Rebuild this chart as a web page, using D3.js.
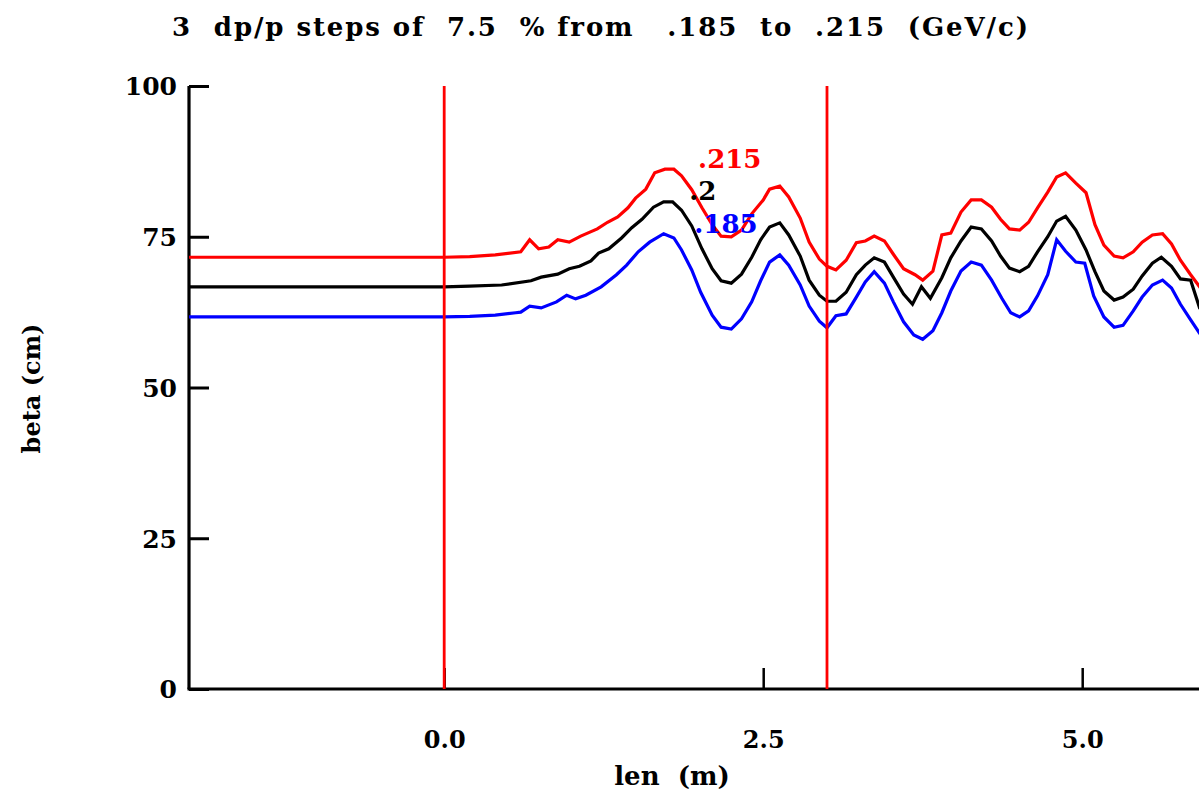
<!DOCTYPE html>
<html>
<head>
<meta charset="utf-8">
<script src="https://cdn.jsdelivr.net/npm/d3@7"></script>
<style>
  html, body { margin: 0; padding: 0; background: #fff; }
  svg { display: block; }
  text { font-family: "DejaVu Serif", "Liberation Serif", serif; font-weight: bold; fill: #000; }
</style>
</head>
<body>
<svg id="chart" width="1199" height="796"></svg>
<script>
// Beta function vs. path length for three momenta (GeV/c)
const redLen  = [-2, 0, 0.2, 0.4, 0.6, 0.67, 0.74, 0.82, 0.89, 0.98, 1.07, 1.2, 1.28, 1.36, 1.44, 1.5, 1.58, 1.65, 1.73, 1.8, 1.86, 1.94, 2.02, 2.1, 2.17, 2.25, 2.33, 2.41, 2.5, 2.55, 2.63, 2.7, 2.79, 2.86, 2.94, 3.0, 3.07, 3.15, 3.23, 3.3, 3.37, 3.45, 3.52, 3.6, 3.69, 3.75, 3.83, 3.9, 3.97, 4.05, 4.13, 4.21, 4.29, 4.36, 4.43, 4.51, 4.58, 4.65, 4.73, 4.8, 4.87, 4.95, 5.03, 5.1, 5.17, 5.25, 5.32, 5.4, 5.47, 5.55, 5.63, 5.7, 5.77, 5.85, 5.92, 6.0];
const redBeta = [71.6, 71.6, 71.7, 72.0, 72.5, 74.5, 73.0, 73.3, 74.5, 74.1, 75.1, 76.3, 77.4, 78.3, 79.8, 81.4, 82.9, 85.6, 86.2, 86.2, 85.1, 82.8, 79.8, 77.0, 75.1, 75.0, 76.1, 78.8, 81.1, 82.9, 83.4, 81.6, 78.1, 74.1, 71.3, 70.1, 69.5, 71.1, 74.0, 74.3, 75.1, 74.3, 72.1, 69.7, 68.7, 67.8, 69.3, 75.3, 75.6, 79.1, 81.1, 81.1, 79.9, 77.9, 76.3, 76.1, 77.4, 79.8, 82.4, 84.9, 85.6, 83.9, 82.3, 77.0, 73.6, 71.8, 71.5, 72.5, 74.1, 75.3, 75.5, 73.8, 71.1, 68.7, 66.7, 64.5];

const blackLen  = [-2, 0, 0.2, 0.45, 0.68, 0.76, 0.89, 0.98, 1.06, 1.15, 1.21, 1.29, 1.39, 1.47, 1.55, 1.64, 1.72, 1.79, 1.86, 1.94, 2.02, 2.1, 2.17, 2.25, 2.33, 2.41, 2.48, 2.55, 2.63, 2.7, 2.79, 2.86, 2.94, 3.0, 3.07, 3.15, 3.23, 3.3, 3.37, 3.45, 3.52, 3.6, 3.67, 3.74, 3.81, 3.9, 3.97, 4.05, 4.13, 4.21, 4.29, 4.36, 4.43, 4.51, 4.58, 4.65, 4.73, 4.8, 4.87, 4.95, 5.03, 5.1, 5.17, 5.25, 5.32, 5.4, 5.47, 5.55, 5.62, 5.7, 5.77, 5.85, 5.92, 6.0];
const blackBeta = [66.7, 66.7, 66.8, 67.0, 67.7, 68.3, 68.8, 69.7, 70.1, 71.0, 72.3, 73.0, 74.8, 76.5, 77.9, 79.9, 80.8, 80.8, 79.4, 76.8, 73.0, 69.7, 67.7, 67.3, 68.8, 71.6, 74.5, 76.6, 77.3, 75.3, 71.8, 67.8, 65.3, 64.3, 64.3, 65.8, 68.7, 70.3, 71.5, 70.8, 68.3, 65.5, 63.8, 66.7, 64.8, 68.2, 71.5, 74.3, 76.6, 76.3, 74.3, 71.8, 69.8, 69.2, 70.1, 72.5, 75.0, 77.6, 78.4, 76.1, 72.8, 69.2, 66.0, 64.5, 65.0, 66.3, 68.5, 70.6, 71.6, 70.1, 68.0, 67.8, 63.2, 61.0];

const blueLen  = [-2, 0, 0.2, 0.4, 0.56, 0.6, 0.67, 0.76, 0.88, 0.96, 1.03, 1.11, 1.23, 1.35, 1.43, 1.52, 1.61, 1.72, 1.8, 1.86, 1.94, 2.01, 2.1, 2.17, 2.25, 2.33, 2.41, 2.48, 2.55, 2.63, 2.7, 2.79, 2.86, 2.94, 3.0, 3.07, 3.15, 3.23, 3.3, 3.37, 3.45, 3.52, 3.6, 3.68, 3.75, 3.83, 3.9, 3.97, 4.05, 4.13, 4.21, 4.29, 4.37, 4.44, 4.51, 4.58, 4.65, 4.73, 4.8, 4.87, 4.95, 5.02, 5.09, 5.17, 5.25, 5.32, 5.4, 5.47, 5.55, 5.63, 5.7, 5.77, 5.85, 5.92, 6.0];
const blueBeta = [61.7, 61.7, 61.8, 62.0, 62.4, 62.5, 63.5, 63.2, 64.2, 65.3, 64.7, 65.3, 66.7, 68.7, 70.3, 72.5, 74.1, 75.5, 74.8, 72.8, 69.5, 65.8, 62.0, 60.0, 59.7, 61.4, 64.2, 67.7, 70.8, 72.0, 70.3, 67.0, 63.5, 61.0, 59.9, 61.9, 62.2, 65.0, 67.5, 69.2, 67.3, 64.2, 60.9, 58.7, 58.0, 59.4, 62.4, 66.0, 69.3, 70.8, 70.3, 67.8, 64.8, 62.4, 61.7, 62.7, 65.2, 68.7, 74.5, 72.6, 70.8, 70.6, 65.2, 61.7, 60.0, 60.3, 62.7, 65.0, 67.0, 67.8, 66.5, 63.8, 61.2, 59.0, 57.0];

const seriesNames  = [".215", ".2", ".185"];
const seriesColors = ["#ff0000", "#000000", "#0000ff"];
const seriesLabelAt = [[1.99, 86.4], [1.92, 81.1], [1.96, 75.6]];

const xTicks = [0, 2.5, 5.0];
const yTicks = [0, 25, 50, 75, 100];
const markerLen = [0, 3.0];

const titleText = "3  dp/p steps of  7.5  % from   .185  to  .215  (GeV/c)";
const xTitle = "len  (m)";
const yTitle = "beta (cm)";

const svg = d3.select("#chart");
const plotLeft = 189, plotRight = 1199, plotTop = 86, plotBottom = 689;

const x = d3.scaleLinear().domain([-2, 6]).range([plotLeft, plotLeft + 8 * 127.6]);
const y = d3.scaleLinear().domain([0, 100]).range([plotBottom, plotTop]);

svg.append("defs").append("clipPath").attr("id", "plotClip")
  .append("rect").attr("x", plotLeft).attr("y", 0).attr("width", plotRight - plotLeft).attr("height", plotBottom);

// title
svg.append("text")
  .attr("x", 172).attr("y", 36)
  .attr("xml:space", "preserve")
  .attr("textLength", 856)
  .attr("lengthAdjust", "spacing")
  .style("font-size", "26px")
  .style("white-space", "pre")
  .text(titleText);

// axes
const yAxis = d3.axisLeft(y).tickValues(yTicks).tickSize(-20).tickPadding(32).tickFormat(d3.format("d"));
const gy = svg.append("g").attr("transform", `translate(${plotLeft},0)`).call(yAxis);
gy.select(".domain").attr("stroke-width", 3.2).attr("d", `M0,${plotTop}V${plotBottom}`);
gy.selectAll(".tick line").attr("stroke-width", 3);
gy.selectAll(".tick text").style("font-size", "25px").style("font-family", "'DejaVu Serif', serif").style("font-weight", "bold").attr("x", -12).attr("dy", "0.35em");

const xAxis = d3.axisBottom(x).tickValues(xTicks).tickSize(-21).tickPadding(40).tickFormat(d3.format(".1f"));
const gx = svg.append("g").attr("transform", `translate(0,${plotBottom})`).call(xAxis);
gx.select(".domain").attr("stroke-width", 3.2).attr("d", `M${plotLeft - 1.5},0H${plotRight}`);
gx.selectAll(".tick line").attr("stroke-width", 2.5);
gx.selectAll(".tick text").style("font-size", "24px").style("font-family", "'DejaVu Serif', serif").style("font-weight", "bold").attr("y", 51).attr("dy", "0.35em");

svg.append("text")
  .attr("x", 672).attr("y", 785)
  .attr("text-anchor", "middle")
  .attr("xml:space", "preserve")
  .style("white-space", "pre")
  .style("font-size", "26px")
  .text(xTitle);

svg.append("text")
  .attr("transform", `translate(40,${(plotTop + plotBottom) / 2 + 1}) rotate(-90)`)
  .attr("text-anchor", "middle")
  .style("font-size", "24px")
  .text(yTitle);

// beta curves
const series = [
  { len: redLen, beta: redBeta },
  { len: blackLen, beta: blackBeta },
  { len: blueLen, beta: blueBeta }
];
const line = d3.line().x(d => x(d[0])).y(d => y(d[1]));
const plot = svg.append("g").attr("clip-path", "url(#plotClip)");
series.forEach((s, i) => {
  plot.append("path")
    .datum(s.len.map((l, k) => [l, s.beta[k]]))
    .attr("fill", "none")
    .attr("stroke", seriesColors[i])
    .attr("stroke-width", 3.2)
    .attr("stroke-linejoin", "miter")
    .attr("d", line);
});

// element boundary markers
plot.selectAll("line.marker").data(markerLen).enter().append("line")
  .attr("class", "marker")
  .attr("x1", d => x(d)).attr("x2", d => x(d))
  .attr("y1", plotTop).attr("y2", plotBottom)
  .attr("stroke", "#ff0000").attr("stroke-width", 2.8);

// curve labels
svg.selectAll("text.slabel").data(seriesNames).enter().append("text")
  .attr("class", "slabel")
  .attr("x", (d, i) => x(seriesLabelAt[i][0]))
  .attr("y", (d, i) => y(seriesLabelAt[i][1]))
  .style("font-size", "26px")
  .style("fill", (d, i) => seriesColors[i])
  .text(d => d);
</script>
</body>
</html>
